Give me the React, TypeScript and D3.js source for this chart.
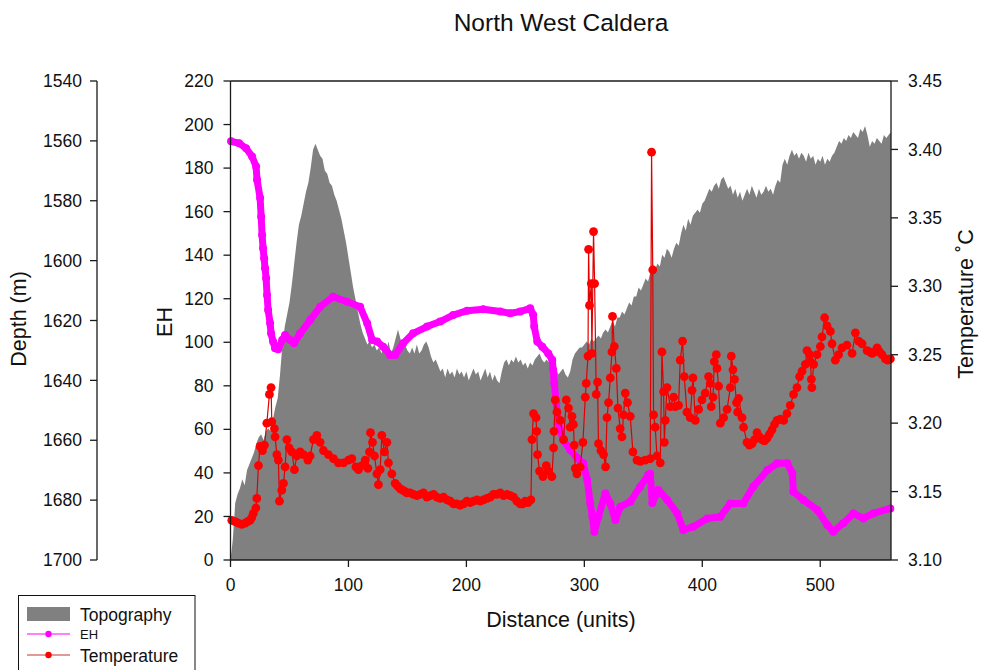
import React from "react";
import * as d3 from "d3";

// ---------- DATA ----------
const depthTicks = [1540, 1560, 1580, 1600, 1620, 1640, 1660, 1680, 1700];
const ehTicks = [0, 20, 40, 60, 80, 100, 120, 140, 160, 180, 200, 220];
const tempTicks = [3.1, 3.15, 3.2, 3.25, 3.3, 3.35, 3.4, 3.45];
const distTicks = [0, 100, 200, 300, 400, 500];

// topography sampled every 2 distance units, values are depth (m)
const topoStep = 2;
const topoDepth = [
  1700, 1693, 1681, 1678, 1676, 1673, 1675, 1670, 1668, 1666, 1664, 1661, 1659, 1658, 1660, 1657, 1656, 1657, 1653, 1649,
  1646, 1638, 1628, 1622, 1618, 1614, 1608, 1601, 1594, 1588, 1585, 1581, 1577, 1574, 1569, 1563, 1561, 1563, 1565, 1566,
  1570, 1571, 1574, 1575, 1578, 1580, 1583, 1586, 1590, 1594, 1599, 1604, 1609, 1613, 1617, 1621, 1624, 1626, 1628, 1627,
  1629, 1628, 1630, 1629, 1631, 1628, 1630, 1627, 1631, 1629, 1626, 1623, 1626, 1629, 1628, 1630, 1631, 1629, 1631, 1628,
  1631, 1630, 1628, 1627, 1629, 1632, 1634, 1633, 1635, 1637, 1636, 1639, 1636, 1638, 1637, 1639, 1636, 1638, 1637, 1639,
  1637, 1640, 1638, 1636, 1638, 1637, 1640, 1638, 1636, 1639, 1637, 1640, 1638, 1640, 1641, 1637, 1634, 1633, 1635, 1633,
  1634, 1632, 1634, 1633, 1635, 1634, 1636, 1634, 1635, 1633, 1632, 1631, 1633, 1634, 1633, 1634, 1636, 1635, 1636, 1638,
  1637, 1636, 1638, 1639, 1637, 1633, 1631, 1630, 1629, 1629, 1628, 1627, 1628, 1626, 1627, 1626, 1625, 1626, 1624, 1623,
  1624, 1622, 1620, 1622, 1619, 1619, 1617, 1618, 1616, 1614, 1615, 1612, 1612, 1609, 1610, 1608, 1606, 1607, 1604, 1601,
  1603, 1601, 1602, 1598, 1599, 1596, 1597, 1599, 1596, 1594, 1595, 1591, 1588, 1590, 1586, 1588, 1585, 1584, 1583, 1584,
  1581, 1580, 1578, 1576, 1577, 1575, 1574, 1576, 1573, 1572, 1574, 1576, 1575, 1578, 1576, 1579, 1577, 1580, 1578, 1576,
  1578, 1575, 1577, 1579, 1576, 1578, 1577, 1575, 1577, 1576, 1578, 1575, 1573, 1574, 1568, 1566, 1568, 1565, 1563, 1565,
  1564, 1566, 1564, 1565, 1567, 1564, 1566, 1565, 1568, 1566, 1567, 1565, 1568, 1566, 1567, 1565, 1564, 1562, 1560, 1561,
  1559, 1560, 1558, 1559, 1557, 1558, 1559, 1556, 1557, 1555, 1558, 1562, 1560, 1561, 1559, 1560, 1561, 1558, 1559, 1558,
  1557,
];

const ehDist = [
  0.5, 7.3, 13.2, 18.3, 21.7, 22.5, 25.1, 26, 26.8, 27.6, 28.5, 29.3, 30.2, 31, 31.9, 33.6, 34.4, 36.1, 37.8, 40.4,
  43.8, 46.3, 50.6, 53.9, 59, 67.5, 76, 87, 98.9, 109.9, 115.9, 120.1, 124.3, 129.4, 135.4, 139.6, 146.4, 154.9, 166.7, 177.8,
  188.8, 200.7, 214.3, 228.7, 237.2, 245.6, 254.1, 256.7, 257.5, 260.1, 264.3, 269.4, 272.8, 273.6, 274.5, 276.2, 277.9, 282.1, 288, 294,
  299.1, 302.5, 305, 306.8, 308.5, 311.9, 317.8, 322, 326.3, 330.5, 339, 347.4, 354.2, 355.9, 357.6, 362.7, 370.3, 378.8, 383.9, 392.4,
  404.2, 415.3, 423.8, 434.8, 443.3, 455.2, 463.6, 472.1, 476.4, 477.2, 485.7, 497.5, 506, 511.1, 519.6, 528.1, 536.6, 545, 559.4,
];
const ehValues = [
  192.3, 191.4, 189.1, 185.3, 180.7, 174.6, 166.3, 157.7, 149.3, 143.2, 138.6, 134, 129.4, 121.7, 114.8, 108.7, 104.1, 100.3, 97.3, 96.8,
  101, 103.3, 101, 99.5, 104, 110.2, 116.3, 120.9, 118.6, 116.3, 108.7, 101, 100.3, 98, 94.2, 94.2, 99.5, 104.1, 107.2, 109.5,
  112.5, 114.5, 115.2, 114.1, 113.3, 114.1, 115.6, 112.5, 107.2, 100.3, 98, 94.9, 91.9, 87.3, 81.2, 72, 63, 55.1, 50.5, 46.8,
  44.4, 36.7, 26, 19.9, 13, 19.9, 30.6, 26, 18.4, 24.5, 26.8, 33.7, 39.1, 39.6, 26.2, 32.2, 27.6, 21.4, 13.8, 15.3,
  19.1, 19.9, 26, 26, 33.7, 41.3, 44.4, 44.4, 39.8, 31.4, 27.6, 23, 16.1, 13, 16.9, 21.4, 19.1, 21.4, 23.7,
];

const tempDist = [
  1.1, 6.7, 12.4, 16.6, 19.4, 21.5, 22.3, 23.7, 25.1, 27.1, 28.8, 30.8, 33.0, 34.4, 35.0, 37.2, 37.8, 39.3, 40.6, 41.5,
  43.5, 44.9, 46.3, 47.8, 49.7, 52.0, 54.2, 56.2, 59.0, 61.8, 65.6, 67.5, 70.3, 73.2, 76.0, 78.8, 83.0, 87.3, 91.5, 95.8,
  100.0, 102.9, 106.3, 108.5, 111.4, 114.2, 116.5, 117.8, 118.7, 120.4, 122.1, 124.1, 125.4, 126.9, 128.3, 130.5, 132.6, 133.9, 136.8, 139.6,
  143.9, 148.1, 149.5, 155.1, 160.8, 166.5, 172.1, 177.8, 183.5, 189.1, 194.7, 200.4, 206.0, 211.7, 217.4, 223.0, 228.7, 234.4, 240.0, 245.6,
  249.9, 254.7, 255.6, 256.9, 259.0, 259.6, 260.3, 262.0, 264.9, 267.7, 269.6, 272.5, 273.9, 274.3, 275.3, 276.8, 279.6, 282.4, 284.7, 286.6,
  288.0, 289.5, 290.8, 291.4, 292.3, 293.7, 296.5, 298.8, 300.8, 301.6, 303.1, 303.6, 304.4, 305.9, 306.4, 307.8, 308.7, 310.1, 311.2, 312.0,
  314.1, 316.3, 318.0, 319.2, 320.5, 322.0, 323.4, 323.9, 325.4, 327.1, 328.5, 330.4, 331.9, 333.2, 334.7, 336.6, 338.9, 341.2, 344.6, 347.4,
  351.6, 355.9, 357.0, 358.0, 358.7, 360.1, 361.6, 364.4, 365.8, 367.2, 367.8, 368.6, 370.1, 372.9, 375.7, 377.1, 379.9, 381.3, 383.3, 384.7,
  387.0, 389.8, 391.3, 392.1, 394.1, 396.9, 399.7, 402.5, 405.3, 406.8, 407.6, 409.1, 410.2, 411.9, 412.5, 413.8, 415.3, 418.1, 421.0, 423.8,
  424.6, 426.0, 427.3, 429.0, 430.0, 430.8, 433.7, 435.0, 437.9, 442.2, 446.4, 450.6, 454.9, 459.1, 463.4, 469.0, 471.8, 474.6, 477.4, 480.3,
  482.5, 484.6, 487.4, 488.8, 491.0, 491.6, 492.5, 492.9, 494.4, 497.3, 500.1, 501.5, 503.7, 505.8, 508.6, 510.0, 512.8, 515.6, 518.5, 522.7,
  527.0, 529.8, 532.6, 535.5, 539.7, 544.0, 548.2, 552.4, 555.2, 559.5,
];
const tempValues = [
  3.129, 3.127, 3.127, 3.129, 3.134, 3.138, 3.145, 3.169, 3.183, 3.18, 3.184, 3.2, 3.221, 3.226, 3.201, 3.196, 3.19, 3.177, 3.173, 3.143,
  3.151, 3.156, 3.168, 3.188, 3.182, 3.179, 3.166, 3.176, 3.179, 3.177, 3.173, 3.176, 3.188, 3.191, 3.186, 3.18, 3.177, 3.174, 3.171, 3.171,
  3.173, 3.174, 3.168, 3.166, 3.169, 3.173, 3.167, 3.179, 3.193, 3.186, 3.176, 3.163, 3.155, 3.166, 3.191, 3.179, 3.186, 3.171, 3.163, 3.156,
  3.152, 3.15, 3.149, 3.148, 3.148, 3.146, 3.148, 3.145, 3.144, 3.141, 3.14, 3.143, 3.143, 3.143, 3.145, 3.148, 3.149, 3.148, 3.146, 3.141,
  3.143, 3.144, 3.188, 3.207, 3.204, 3.194, 3.177, 3.165, 3.161, 3.169, 3.165, 3.161, 3.182, 3.194, 3.217, 3.208, 3.202, 3.188, 3.217, 3.211,
  3.197, 3.205, 3.199, 3.184, 3.167, 3.163, 3.168, 3.186, 3.219, 3.229, 3.249, 3.327, 3.286, 3.302, 3.251, 3.34, 3.302, 3.221, 3.23, 3.185,
  3.18, 3.177, 3.168, 3.204, 3.215, 3.233, 3.252, 3.278, 3.256, 3.24, 3.211, 3.196, 3.19, 3.206, 3.222, 3.215, 3.205, 3.179, 3.173, 3.172,
  3.173, 3.174, 3.398, 3.312, 3.206, 3.197, 3.176, 3.171, 3.252, 3.223, 3.186, 3.202, 3.226, 3.212, 3.219, 3.212, 3.213, 3.246, 3.26, 3.234,
  3.208, 3.204, 3.224, 3.233, 3.202, 3.21, 3.217, 3.222, 3.234, 3.229, 3.212, 3.219, 3.245, 3.25, 3.24, 3.227, 3.2, 3.204, 3.21, 3.226,
  3.249, 3.239, 3.232, 3.215, 3.208, 3.218, 3.204, 3.197, 3.186, 3.185, 3.193, 3.188, 3.189, 3.195, 3.202, 3.202, 3.207, 3.213, 3.221, 3.226,
  3.234, 3.238, 3.243, 3.253, 3.25, 3.245, 3.232, 3.226, 3.243, 3.25, 3.256, 3.263, 3.277, 3.271, 3.267, 3.258, 3.246, 3.25, 3.255, 3.257,
  3.251, 3.266, 3.26, 3.258, 3.253, 3.251, 3.255, 3.25, 3.247, 3.247,
];
// additional temperature readings in the densely sampled, flat stretches
const tempDistFill = [
  3.9, 9.5, 14.5, 18.0, 141.7, 146.0, 152.3, 158.0, 163.6, 169.3, 175.0, 180.6, 186.3, 191.9, 197.5, 203.2, 208.9, 214.5,
  220.2, 225.8, 231.5, 237.2, 242.8, 247.7, 252.3, 440.0, 444.3, 448.5, 452.7, 457.0, 461.2, 466.2, 541.8, 546.1, 550.3, 557.3,
];
const tempValuesFill = [
  3.128, 3.126, 3.128, 3.131, 3.154, 3.151, 3.149, 3.147, 3.149, 3.147, 3.146, 3.146, 3.143, 3.141, 3.141, 3.142, 3.144, 3.144,
  3.146, 3.148, 3.147, 3.147, 3.143, 3.141, 3.142, 3.184, 3.188, 3.19, 3.187, 3.192, 3.199, 3.203, 3.252, 3.252, 3.252, 3.246,
];

// ---------- LAYOUT ----------
const W = 981;
const H = 670;
const left = 230.5;
const right = 891;
const top = 81;
const bottom = 560;
const depthAxisX = 97;
const FONT = "'Liberation Sans', Arial, Helvetica, sans-serif";
const GREY = "#808080";
const MAGENTA = "#ff00ff";
const RED = "#ff0000";
const AX = "#1a1a1a";

export default function App() {
  const x = d3.scaleLinear().domain([0, 560]).range([left, right]);
  const yEH = d3.scaleLinear().domain([0, 220]).range([bottom, top]);
  const yDepth = d3.scaleLinear().domain([1540, 1700]).range([top, bottom]);
  const yT = d3.scaleLinear().domain([3.1, 3.45]).range([bottom, top]);

  const topo = topoDepth.map((v, i) => [i * topoStep, v] as [number, number]);
  const eh = ehDist.map((d, i) => [d, ehValues[i]] as [number, number]);
  const temp = d3.sort(
    [
      ...tempDist.map((d, i) => [d, tempValues[i]] as [number, number]),
      ...tempDistFill.map((d, i) => [d, tempValuesFill[i]] as [number, number]),
    ],
    (d) => d[0]
  );

  const area = d3
    .area<[number, number]>()
    .x((d) => x(d[0]))
    .y0(bottom)
    .y1((d) => yDepth(d[1]));
  const ehLine = d3
    .line<[number, number]>()
    .x((d) => x(d[0]))
    .y((d) => yEH(d[1]));
  const tLine = d3
    .line<[number, number]>()
    .x((d) => x(d[0]))
    .y((d) => yT(d[1]));

  const tickFs = 17.5;
  const titleFs = 21.5;

  return (
    <svg
      width={W}
      height={H}
      viewBox={`0 0 ${W} ${H}`}
      style={{ position: "absolute", left: 0, top: 0, background: "#fff" }}
      fontFamily={FONT}
    >
      <rect x={0} y={0} width={W} height={H} fill="#fff" />
      {/* title */}
      <text x={561} y={31} fontSize={24.5} textAnchor="middle" fill="#111">
        North West Caldera
      </text>

      {/* topography */}
      <path d={area(topo) || ""} fill={GREY} stroke="none" />

      {/* EH series */}
      <path
        d={ehLine(eh) || ""}
        fill="none"
        stroke={MAGENTA}
        strokeWidth={7}
        strokeLinejoin="round"
        strokeLinecap="round"
      />
      {eh.map((d, i) => (
        <circle key={"e" + i} cx={x(d[0])} cy={yEH(d[1])} r={4} fill={MAGENTA} />
      ))}

      {/* Temperature series */}
      <path d={tLine(temp) || ""} fill="none" stroke="#e00000" strokeWidth={1.2} />
      {temp.map((d, i) => (
        <circle key={"t" + i} cx={x(d[0])} cy={yT(d[1])} r={4.4} fill={RED} />
      ))}

      {/* frame: top line */}
      <line x1={left} x2={right} y1={top} y2={top} stroke={AX} strokeWidth={1.3} />
      {/* bottom axis */}
      <line x1={left} x2={right} y1={bottom} y2={bottom} stroke={AX} strokeWidth={1.3} />
      {distTicks.map((t) => (
        <g key={"x" + t}>
          <line x1={x(t)} x2={x(t)} y1={bottom} y2={bottom + 7} stroke={AX} strokeWidth={1.3} />
          <text x={x(t)} y={bottom + 31} fontSize={tickFs} textAnchor="middle" fill="#111">
            {t}
          </text>
        </g>
      ))}
      <text x={561} y={627} fontSize={titleFs} textAnchor="middle" fill="#111">
        Distance (units)
      </text>

      {/* EH axis */}
      <line x1={left} x2={left} y1={top} y2={bottom} stroke={AX} strokeWidth={1.3} />
      {ehTicks.map((t) => (
        <g key={"eh" + t}>
          <line x1={left - 7} x2={left} y1={yEH(t)} y2={yEH(t)} stroke={AX} strokeWidth={1.3} />
          <text x={left - 17} y={yEH(t)} dy="0.35em" fontSize={tickFs} textAnchor="end" fill="#111">
            {t}
          </text>
        </g>
      ))}
      <text
        transform={`translate(172,322) rotate(-90)`}
        fontSize={titleFs}
        textAnchor="middle"
        fill="#111"
      >
        EH
      </text>

      {/* Depth axis */}
      <line x1={depthAxisX} x2={depthAxisX} y1={top} y2={bottom} stroke={AX} strokeWidth={1.3} />
      {depthTicks.map((t) => (
        <g key={"d" + t}>
          <line
            x1={depthAxisX - 7}
            x2={depthAxisX}
            y1={yDepth(t)}
            y2={yDepth(t)}
            stroke={AX}
            strokeWidth={1.3}
          />
          <text
            x={depthAxisX - 15}
            y={yDepth(t)}
            dy="0.35em"
            fontSize={tickFs}
            textAnchor="end"
            fill="#111"
          >
            {t}
          </text>
        </g>
      ))}
      <text
        transform={`translate(26,319) rotate(-90)`}
        fontSize={titleFs}
        textAnchor="middle"
        fill="#111"
      >
        Depth (m)
      </text>

      {/* Temperature axis */}
      <line x1={right} x2={right} y1={top} y2={bottom} stroke={AX} strokeWidth={1.3} />
      {tempTicks.map((t) => (
        <g key={"tt" + t}>
          <line x1={right} x2={right + 7} y1={yT(t)} y2={yT(t)} stroke={AX} strokeWidth={1.3} />
          <text x={right + 17} y={yT(t)} dy="0.35em" fontSize={tickFs} textAnchor="start" fill="#111">
            {d3.format(".2f")(t)}
          </text>
        </g>
      ))}
      <text
        transform={`translate(973,304) rotate(-90)`}
        fontSize={titleFs}
        textAnchor="middle"
        fill="#111"
      >
        Temperature ˚C
      </text>

      {/* legend */}
      <rect x={18.5} y={595.5} width={176.5} height={90} fill="#fff" stroke="#111" strokeWidth={1} />
      <rect x={27} y={607} width={43} height={14} fill={GREY} />
      <text x={80} y={621} fontSize={17.5} fill="#111">
        Topography
      </text>
      <line x1={27} x2={70} y1={634} y2={634} stroke={MAGENTA} strokeWidth={1.2} />
      <circle cx={48.5} cy={634} r={3.2} fill={MAGENTA} />
      <text x={80} y={639} fontSize={13} fill="#111">
        EH
      </text>
      <line x1={27} x2={70} y1={655} y2={655} stroke="#c83030" strokeWidth={1.2} />
      <circle cx={48.5} cy={655} r={3.2} fill={RED} />
      <text x={80} y={661.5} fontSize={17.5} fill="#111">
        Temperature
      </text>
    </svg>
  );
}
